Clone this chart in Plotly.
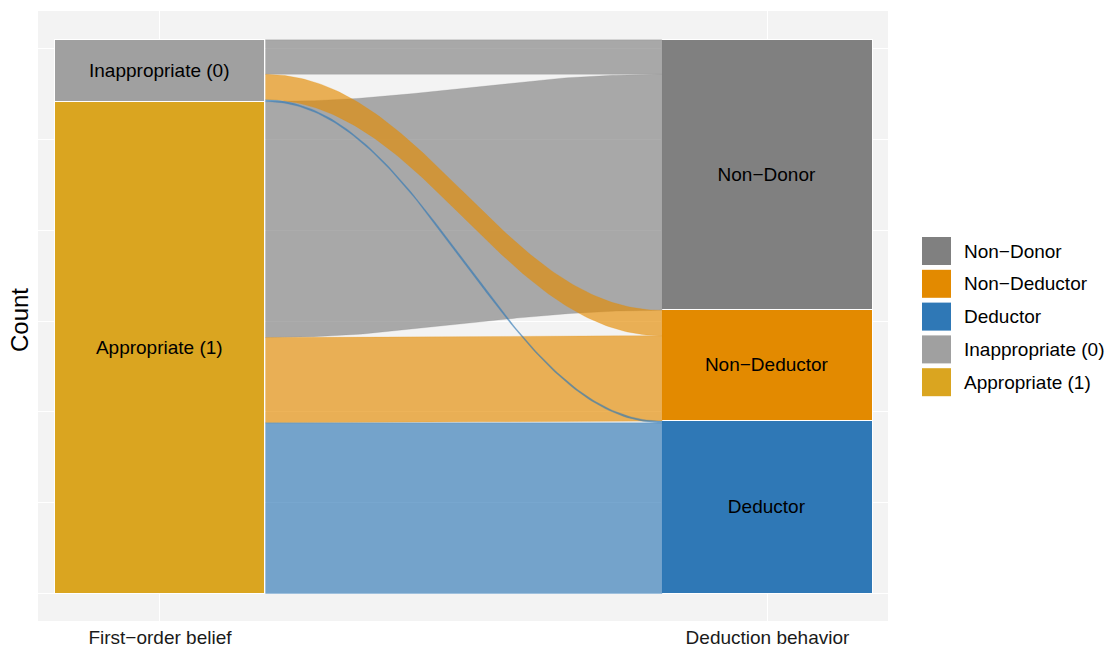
import numpy as np
import plotly.graph_objects as go

# ---------------- data ----------------
axis_labels = ["First\u2212order belief", "Deduction behavior"]
belief_cats = ["Inappropriate (0)", "Appropriate (1)"]          # left strata, top -> bottom
behavior_cats = ["Non\u2212Donor", "Non\u2212Deductor", "Deductor"]  # right strata, top -> bottom
# counts of flows from each belief category to each behavior category
flows_inappropriate = [19, 14, 1]
flows_appropriate = [130, 47, 94]

behavior_colors = ["#808080", "#E38A00", "#2F78B6"]
belief_colors = ["#A0A0A0", "#DAA520"]
legend_names = behavior_cats + belief_cats
legend_colors = behavior_colors + belief_colors

# ---------------- geometry helpers ----------------
M = np.array([flows_inappropriate, flows_appropriate], dtype=float)
N = M.sum()
L = M.sum(axis=1)
R = M.sum(axis=0)
W = 0.347          # stratum width
K = 0.40           # bezier control offset
FONT = "Liberation Sans"


def rgba(hexcol, a):
    h = hexcol.lstrip("#")
    r, g, b = int(h[0:2], 16), int(h[2:4], 16), int(h[4:6], 16)
    return f"rgba({r},{g},{b},{a})"


left_top = [N - L[:i].sum() for i in range(len(L))]
right_top = [N - R[:j].sum() for j in range(len(R))]

fig = go.Figure()

t = np.linspace(0, 1, 120)
xa, xb = 1 + W / 2, 2 - W / 2
cx1, cx2 = xa + K * (xb - xa), xb - K * (xb - xa)
bx = (1 - t) ** 3 * xa + 3 * (1 - t) ** 2 * t * cx1 + 3 * (1 - t) * t ** 2 * cx2 + t ** 3 * xb
by = 3 * (1 - t) * t ** 2 + t ** 3   # 0 -> 1 blend

for j in range(len(R)):
    for i in range(len(L)):
        c = M[i, j]
        if c <= 0:
            continue
        lt = left_top[i] - M[i, :j].sum()
        lb = lt - c
        rt = right_top[j] - M[:i, j].sum()
        rb = rt - c
        top = lt + (rt - lt) * by
        bot = lb + (rb - lb) * by
        xs = np.concatenate([bx, bx[::-1]])
        ys = np.concatenate([top, bot[::-1]])
        fig.add_trace(go.Scatter(
            x=xs, y=ys, mode="lines", fill="toself",
            fillcolor=rgba(behavior_colors[j], 0.65),
            line=dict(width=0.6, color=rgba(behavior_colors[j], 0.35)),
            hoverinfo="skip", showlegend=False))

# strata as stacked bars (bottom first)
for i in reversed(range(len(L))):
    fig.add_trace(go.Bar(
        x=[1], y=[L[i]], width=W, marker=dict(color=belief_colors[i], line=dict(color="white", width=1.5)),
        text=[belief_cats[i]], textposition="inside", insidetextanchor="middle", textangle=0,
        constraintext="none", textfont=dict(color="black", size=19, family=FONT),
        hoverinfo="skip", showlegend=False))
for j in reversed(range(len(R))):
    fig.add_trace(go.Bar(
        x=[2], y=[R[j]], width=W, marker=dict(color=behavior_colors[j], line=dict(color="white", width=1.5)),
        text=[behavior_cats[j]], textposition="inside", insidetextanchor="middle", textangle=0,
        constraintext="none", textfont=dict(color="black", size=19, family=FONT),
        hoverinfo="skip", showlegend=False))

# ---------------- layout ----------------
plot_l, plot_r, plot_t, plot_b = 38, 888, 11, 621
fig_w, fig_h = 1111, 648

fig.update_layout(
    width=fig_w, height=fig_h, barmode="stack", bargap=0,
    margin=dict(l=plot_l, r=fig_w - plot_r, t=plot_t, b=fig_h - plot_b, autoexpand=False),
    paper_bgcolor="white", plot_bgcolor="#F3F3F3",
    font=dict(family=FONT, color="black"),
    showlegend=False,
)
fig.update_xaxes(range=[0.7992, 2.1984], tickvals=[1, 2], ticktext=axis_labels,
                 showgrid=True, gridcolor="white", gridwidth=1.2, zeroline=False,
                 ticks="", tickfont=dict(size=19, color="#1A1A1A"), ticklabelstandoff=3,
                 showline=False)
fig.update_yaxes(range=[-15.15, 320.9], tick0=0, dtick=50, showticklabels=False,
                 showgrid=True, gridcolor="white", gridwidth=1.2, zeroline=False,
                 ticks="", showline=False)

pw, ph = plot_r - plot_l, plot_b - plot_t
fig.add_annotation(text="Count", textangle=-90, xref="paper", yref="paper",
                   x=(20 - plot_l) / pw, y=(plot_b - 320) / ph, showarrow=False,
                   font=dict(size=24, color="black"), xanchor="center", yanchor="middle")

# manual legend
key_l, key_r, key_h = 922, 951, 28
first_c, step = 251, 32.8
for k, (nm, col) in enumerate(zip(legend_names, legend_colors)):
    yc = first_c + k * step
    fig.add_shape(type="rect", xref="paper", yref="paper",
                  x0=(key_l - plot_l) / pw, x1=(key_r - plot_l) / pw,
                  y0=(plot_b - (yc + key_h / 2)) / ph, y1=(plot_b - (yc - key_h / 2)) / ph,
                  fillcolor=col, line=dict(width=0))
    fig.add_annotation(text=nm, xref="paper", yref="paper",
                       x=(962 - plot_l) / pw, y=(plot_b - yc) / ph,
                       xanchor="left", yanchor="middle", showarrow=False,
                       font=dict(size=19, color="black"))

fig.write_html("out.html", config={"displayModeBar": False},
               post_script="document.body.style.margin='0';")
